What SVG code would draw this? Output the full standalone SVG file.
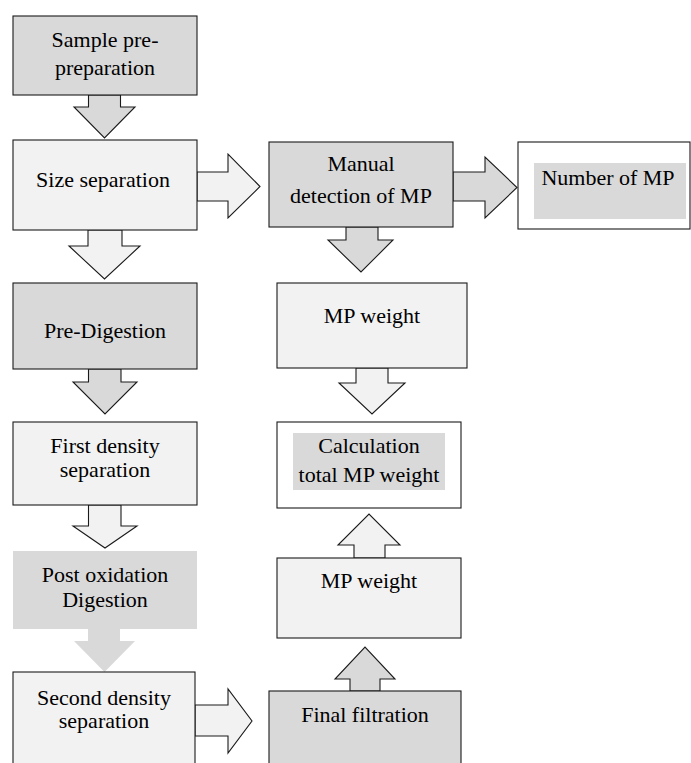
<svg xmlns="http://www.w3.org/2000/svg" width="691" height="763" viewBox="0 0 691 763">
<style>
.g{fill:#d9d9d9}
.l{fill:#f2f2f2}
.w{fill:#ffffff}
.s{stroke:#1a1a1a;stroke-width:1.1}
.n{stroke:none}
text{font-family:"Liberation Serif","Times New Roman",serif;font-size:22px;fill:#000;text-anchor:middle}
</style>
<rect x="0" y="0" width="691" height="763" fill="#ffffff"/>
<g id="connectors">
<polygon class="g s" points="88.5,95 88.5,107 74,107 104.5,138 135,107 120.5,107 120.5,95"/>
<polygon class="l s" points="197,172 228,172 228,154 260,186.5 228,218 228,201 197,201"/>
<polygon class="l s" points="88,230 88,246 69,246 104.5,279 140,246 122,246 122,230"/>
<polygon class="g s" points="453,172 485,172 485,157 517,187.5 485,218 485,201 453,201"/>
<polygon class="g s" points="346,227 346,240 328,240 361,272 393,240 378,240 378,227"/>
<polygon class="g s" points="88.5,369 88.5,382 73,382 105,414 137,382 121,382 121,369"/>
<polygon class="l s" points="356,368 356,383 339,383 372,414 405,383 388,383 388,368"/>
<polygon class="l s" points="88.5,505 88.5,526 73,526 105,548 137,526 121,526 121,505"/>
<polygon class="g n" points="88,629 88,641 74,641 104.5,672 135,641 120,641 120,629"/>
<polygon class="l s" points="195,705 228,705 228,689 252,721 228,753 228,736 195,736"/>
<polygon class="g s" points="350,691 350,679 335,679 365,647 395,679 380,679 380,691"/>
<polygon class="l s" points="354,558 354,545 338,545 369,514 400,545 385,545 385,558"/>
</g>
<g id="sample">
<rect class="g s" x="13" y="16" width="184" height="79"/>
<text x="105" y="47">Sample pre-</text>
<text x="105" y="75">preparation</text>
</g>
<g id="size">
<rect class="l s" x="13" y="140" width="184" height="90"/>
<text x="103" y="187">Size separation</text>
</g>
<g id="predigestion">
<rect class="g s" x="13" y="283" width="184" height="86"/>
<text x="105" y="338">Pre-Digestion</text>
</g>
<g id="firstdensity">
<rect class="l s" x="13" y="422" width="184" height="83"/>
<text x="105" y="453">First density</text>
<text x="105" y="477">separation</text>
</g>
<g id="postoxidation">
<rect class="g n" x="13" y="551" width="184" height="78"/>
<text x="105" y="582">Post oxidation</text>
<text x="105" y="607">Digestion</text>
</g>
<g id="seconddensity">
<rect class="l s" x="13" y="672" width="182" height="110"/>
<text x="104" y="705">Second density</text>
<text x="104" y="728">separation</text>
</g>
<g id="manual">
<rect class="g s" x="269" y="142" width="184" height="85"/>
<text x="361" y="171">Manual</text>
<text x="361" y="203">detection of MP</text>
</g>
<g id="number">
<rect class="w s" x="518" y="142" width="172" height="87"/>
<rect class="g n" x="534" y="163" width="152" height="56"/>
<text x="608" y="185">Number of MP</text>
</g>
<g id="mpweight1">
<rect class="l s" x="277" y="283" width="190" height="85"/>
<text x="372" y="323">MP weight</text>
</g>
<g id="calculation">
<rect class="w s" x="277" y="422" width="184" height="86"/>
<rect class="g n" x="293" y="433" width="152" height="57"/>
<text x="369" y="453">Calculation</text>
<text x="369" y="482">total MP weight</text>
</g>
<g id="mpweight2">
<rect class="l s" x="277" y="558" width="184" height="80"/>
<text x="369" y="588">MP weight</text>
</g>
<g id="final">
<rect class="g s" x="269" y="691" width="192" height="100"/>
<text x="365" y="722">Final filtration</text>
</g>
</svg>
